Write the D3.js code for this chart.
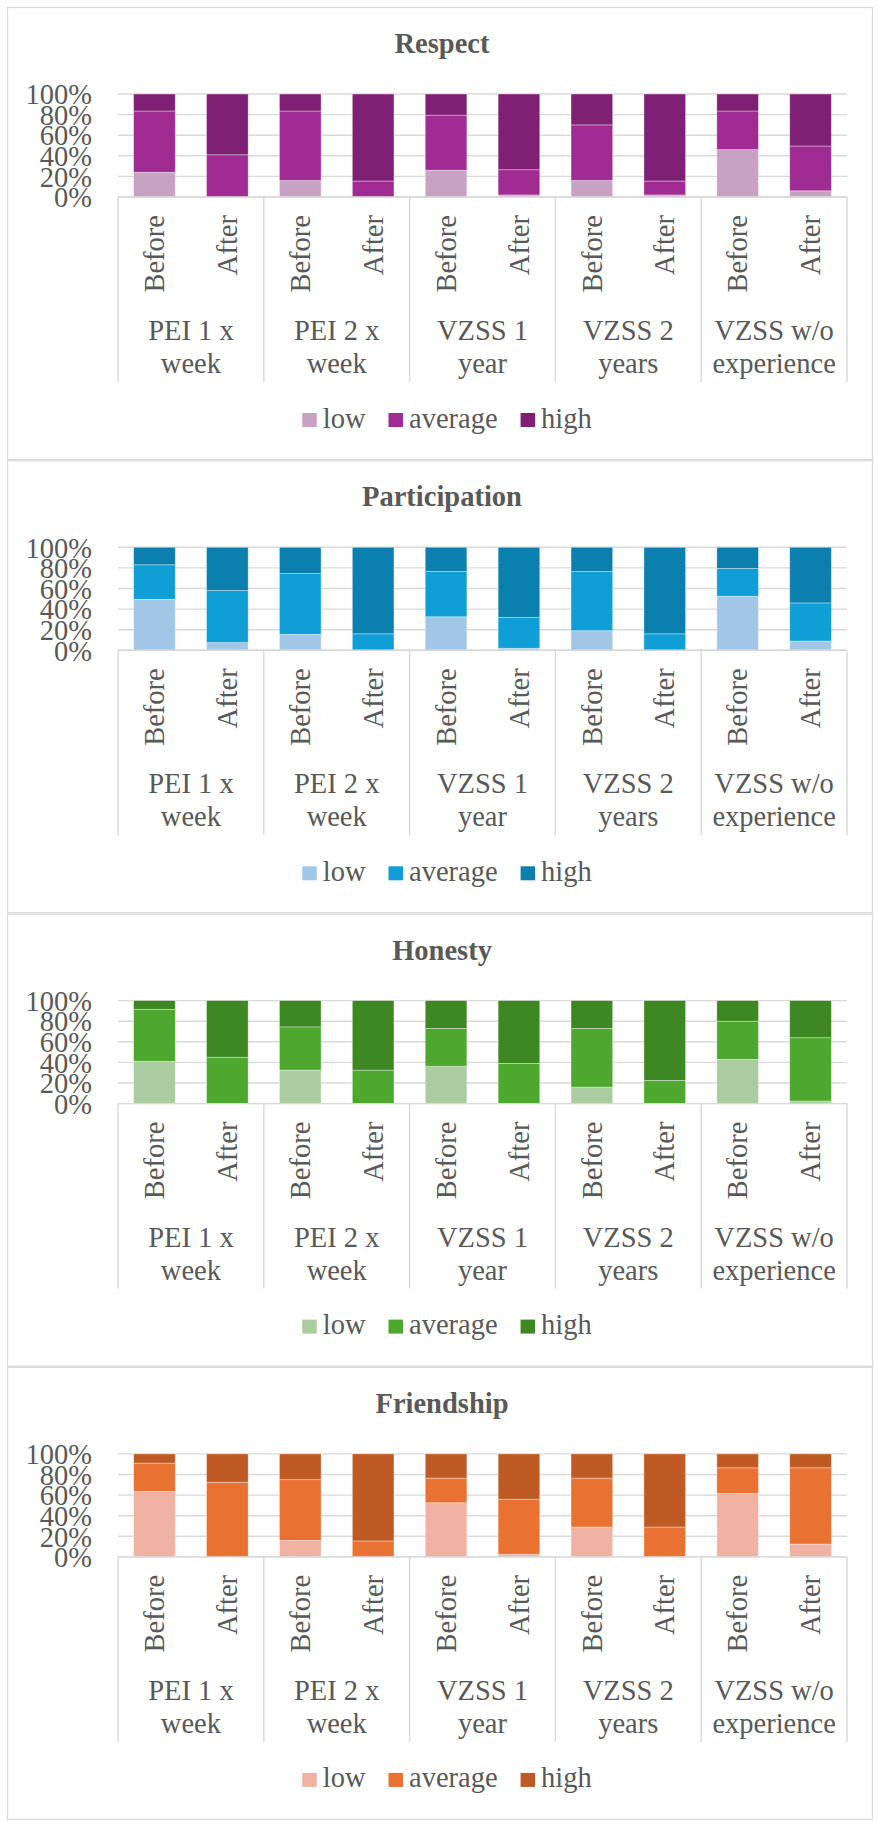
<!DOCTYPE html>
<html>
<head>
<meta charset="utf-8">
<script src="https://cdn.jsdelivr.net/npm/d3@7"></script>
<style>
  html, body { margin: 0; padding: 0; background: #fff; }
  svg { display: block; }
  text { font-family: "Liberation Serif", "Times New Roman", serif; fill: #595959; }
</style>
</head>
<body>
<svg id="chart" width="878" height="1821"></svg>
<script>
// Categories: five programmes, each measured before and after
const groupLines = [["PEI 1 x", "week"], ["PEI 2 x", "week"], ["VZSS 1", "year"], ["VZSS 2", "years"], ["VZSS w/o", "experience"]];
const phases = ["Before", "After"];
const seriesNames = ["low", "average", "high"];
const tickValues = [0, 0.2, 0.4, 0.6, 0.8, 1];
const tickLabels = ["0%", "20%", "40%", "60%", "80%", "100%"];

// Percent shares per bar (PEI1 Before, PEI1 After, PEI2 Before, ...)
const respectLow     = [24, 0, 16, 0, 26, 2, 16, 2, 46, 6];
const respectAverage = [59.5, 41, 67.5, 15.5, 53.5, 24.5, 54, 13.5, 37.5, 43.5];
const respectHigh    = [16.5, 59, 16.5, 84.5, 20.5, 73.5, 30, 84.5, 16.5, 50.5];

const participationLow     = [49.5, 7.5, 15.5, 0, 32.5, 2, 19, 0, 52.5, 9];
const participationAverage = [33.5, 50.5, 59, 16, 44, 30, 57.5, 16, 27, 37];
const participationHigh    = [17, 42, 25.5, 84, 23.5, 68, 23.5, 84, 20.5, 54];

const honestyLow     = [41, 0, 32.5, 0, 36, 0, 16, 0, 43, 2.5];
const honestyAverage = [50.5, 45, 42, 32.5, 37, 39, 57, 22.5, 37, 61.5];
const honestyHigh    = [8.5, 55, 25.5, 67.5, 27, 61, 27, 77.5, 20, 36];

const friendshipLow     = [63.5, 0, 16, 0, 52.5, 2.5, 29, 0, 61.5, 12.5];
const friendshipAverage = [27.5, 72.5, 59, 15.5, 24, 53.5, 47.5, 29, 25, 74];
const friendshipHigh    = [9, 27.5, 25, 84.5, 23.5, 44, 23.5, 71, 13.5, 13.5];

const panelTitles = ["Respect", "Participation", "Honesty", "Friendship"];
const panelSeries = [
  [respectLow, respectAverage, respectHigh],
  [participationLow, participationAverage, participationHigh],
  [honestyLow, honestyAverage, honestyHigh],
  [friendshipLow, friendshipAverage, friendshipHigh]
];
const panelColors = [
  ["#C8A2C2", "#A02B93", "#7F2074"],
  ["#A2C7E6", "#0F9ED5", "#0B80AF"],
  ["#ABCBA0", "#4EA72E", "#3E8823"],
  ["#F1B2A4", "#E97132", "#C05A25"]
];

// Layout
const svg = d3.select("#chart");
const panelLeft = 7, panelRight = 873;
const panelTop0 = 7, panelStep = 453.3, panelHeight = 453;
const plotLeft = 118, plotRight = 847;
const plotTopOff = 87, plotBottomOff = 190;
const fontSize = 28.5;
const gridColor = "#d9d9d9";

const categories = [];
groupLines.forEach((g, gi) => phases.forEach((p, pi) => categories.push(gi + "|" + p)));

const x = d3.scaleBand()
  .domain(categories)
  .range([plotLeft, plotRight])
  .paddingInner(0.4286)
  .paddingOuter(0.2143);
const groupWidth = (plotRight - plotLeft) / groupLines.length;

panelTitles.forEach((title, k) => {
  const top = panelTop0 + k * panelStep;
  const g = svg.append("g").attr("transform", `translate(0,${top})`);

  // panel frame
  g.append("rect")
    .attr("x", panelLeft + 0.5).attr("y", 0.5)
    .attr("width", panelRight - panelLeft - 1).attr("height", panelHeight - 1)
    .attr("fill", "#fff").attr("stroke", gridColor).attr("stroke-width", 1.2);

  const y = d3.scaleLinear().domain([0, 1]).range([plotBottomOff, plotTopOff]);

  // title
  g.append("text")
    .attr("x", 442).attr("y", 46)
    .attr("text-anchor", "middle")
    .attr("font-size", fontSize).attr("font-weight", "bold")
    .text(title);

  // gridlines
  g.append("g").selectAll("line").data(tickValues).join("line")
    .attr("x1", plotLeft).attr("x2", plotRight)
    .attr("y1", d => y(d)).attr("y2", d => y(d))
    .attr("stroke", gridColor).attr("stroke-width", 1.4);

  // value axis labels
  const yAxis = d3.axisLeft(y)
    .tickValues(tickValues)
    .tickFormat((d, i) => tickLabels[i])
    .tickSize(0).tickPadding(26);
  const ya = g.append("g").attr("transform", `translate(${plotLeft},0)`).call(yAxis);
  ya.select(".domain").remove();
  ya.selectAll("text")
    .attr("font-size", fontSize)
    .attr("font-family", "Liberation Serif, Times New Roman, serif")
    .attr("fill", "#595959")
    .attr("dy", "0.34em");

  // stacked bars
  const rows = categories.map((c, i) => {
    const r = { cat: c };
    seriesNames.forEach((s, si) => r[s] = panelSeries[k][si][i] / 100);
    return r;
  });
  const stacked = d3.stack().keys(seriesNames)(rows);
  g.append("g").selectAll("g").data(stacked).join("g")
    .attr("fill", (d, i) => panelColors[k][i])
    .selectAll("rect").data(d => d).join("rect")
      .attr("x", d => x(d.data.cat))
      .attr("width", x.bandwidth())
      .attr("y", d => y(d[1]))
      .attr("height", d => y(d[0]) - y(d[1]))
      .attr("stroke", "#fff").attr("stroke-opacity", 0.45).attr("stroke-width", 0.8);

  // category axis line
  g.append("line")
    .attr("x1", plotLeft).attr("x2", plotRight)
    .attr("y1", plotBottomOff).attr("y2", plotBottomOff)
    .attr("stroke", gridColor).attr("stroke-width", 1.4);

  // group separators
  g.append("g").selectAll("line").data(d3.range(groupLines.length + 1)).join("line")
    .attr("x1", i => plotLeft + i * groupWidth).attr("x2", i => plotLeft + i * groupWidth)
    .attr("y1", plotBottomOff).attr("y2", 375)
    .attr("stroke", gridColor).attr("stroke-width", 1.4);

  // Before / After labels (rotated)
  g.append("g").selectAll("text").data(categories).join("text")
    .attr("transform", c => `translate(${x(c) + x.bandwidth() / 2},208) rotate(-90)`)
    .attr("text-anchor", "end")
    .attr("dy", "0.34em")
    .attr("font-size", fontSize)
    .text(c => c.split("|")[1]);

  // programme labels (two lines)
  const gl = g.append("g").selectAll("text").data(groupLines).join("text")
    .attr("text-anchor", "middle")
    .attr("font-size", fontSize);
  gl.append("tspan")
    .attr("x", (d, i) => plotLeft + (i + 0.5) * groupWidth).attr("y", 333)
    .text(d => d[0]);
  gl.append("tspan")
    .attr("x", (d, i) => plotLeft + (i + 0.5) * groupWidth).attr("y", 366)
    .text(d => d[1]);

  // legend
  const legend = g.append("g");
  const items = legend.selectAll("g").data(seriesNames).join("g");
  items.append("rect")
    .attr("width", 14.5).attr("height", 14)
    .attr("y", 406)
    .attr("fill", (d, i) => panelColors[k][i]);
  items.append("text")
    .attr("x", 20.5).attr("y", 420.5)
    .attr("font-size", fontSize)
    .text(d => d);
  let cursor = 0;
  const offsets = [];
  items.each(function () {
    offsets.push(cursor);
    const w = this.querySelector("text").getComputedTextLength();
    cursor += 20.5 + w + 23;
  });
  const total = cursor - 23;
  const start = 447 - total / 2;
  items.attr("transform", (d, i) => `translate(${start + offsets[i]},0)`);
});
</script>
</body>
</html>
